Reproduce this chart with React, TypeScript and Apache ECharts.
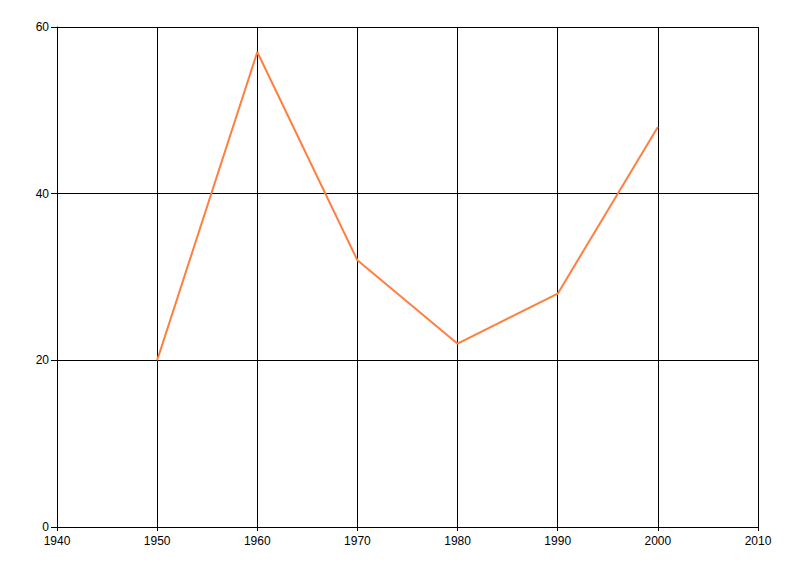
import React, { useEffect, useRef } from "react";
import * as echarts from "echarts";

const years = [1950, 1960, 1970, 1980, 1990, 2000];
const values = [20, 57, 32, 22, 28, 48];

export default function App() {
  const ref = useRef<HTMLDivElement>(null);
  useEffect(() => {
    if (!ref.current) return;
    const chart = echarts.init(ref.current, null, { renderer: "svg" });
    const axisLabel = { color: "#000", fontFamily: "Liberation Sans, Arial, sans-serif", fontSize: 12 };
    chart.setOption({
      animation: false,
      backgroundColor: "#fff",
      grid: { left: 57, right: 42, top: 27, bottom: 49, containLabel: false },
      xAxis: {
        type: "value",
        min: 1940,
        max: 2010,
        interval: 10,
        axisLine: { show: true, lineStyle: { color: "#000", width: 1 } },
        axisTick: { show: true, length: 4, lineStyle: { color: "#000" } },
        axisLabel: { ...axisLabel, margin: 8, formatter: (v: number) => String(v) },
        splitLine: { show: true, lineStyle: { color: "#000", width: 1 } },
      },
      yAxis: {
        type: "value",
        min: 0,
        max: 60,
        interval: 20,
        axisLine: { show: true, lineStyle: { color: "#000", width: 1 } },
        axisTick: { show: true, length: 6, lineStyle: { color: "#000" } },
        axisLabel: { ...axisLabel, margin: 8 },
        splitLine: { show: true, lineStyle: { color: "#000", width: 1 } },
      },
      series: [
        {
          type: "line",
          data: years.map((y, i) => [y, values[i]]),
          showSymbol: false,
          symbol: "none",
          lineStyle: { color: "#ff7f40", width: 2 },
        },
      ],
    });
    return () => chart.dispose();
  }, []);
  return <div ref={ref} style={{ width: 800, height: 576, position: "absolute", left: 0, top: 0 }} />;
}
